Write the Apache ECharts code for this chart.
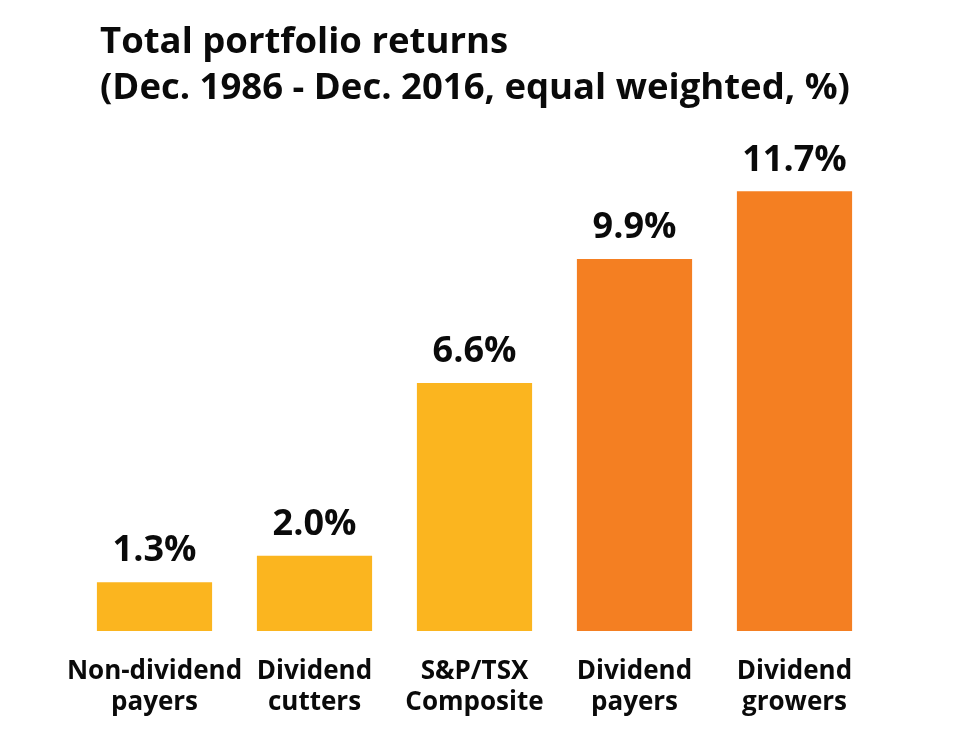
<!DOCTYPE html>
<html><head><meta charset="utf-8">
<script src="https://cdn.jsdelivr.net/npm/echarts@6/dist/echarts.min.js"></script>
<style>html,body{margin:0;padding:0;background:#fff}#c{width:961px;height:752px}</style>
</head><body><div id="c"></div>
<script>
const categories = ["Non-dividend\npayers", "Dividend\ncutters", "S&P/TSX\nComposite", "Dividend\npayers", "Dividend\ngrowers"];
const values = [1.3, 2.0, 6.6, 9.9, 11.7];
const barColors = ["#FBB51F", "#FBB51F", "#FBB51F", "#F47F22", "#F47F22"];
const titleLines = ["Total portfolio returns", "(Dec. 1986 - Dec. 2016, equal weighted, %)"];

const FONT = "Open Sans";
const chart = echarts.init(document.getElementById('c'), null, {renderer: 'canvas'});
chart.setOption({
  animation: false,
  backgroundColor: '#fff',
  title: {
    text: titleLines.join('\n'),
    left: 95, top: 15,
    textStyle: {fontFamily: FONT, fontWeight: 'bold', fontSize: 36.5, lineHeight: 46, color: '#0a0a0a'}
  },
  grid: {left: 74.5, right: 961 - 874.5, top: 180, bottom: 752 - 631},
  xAxis: {
    type: 'category', data: categories,
    axisLine: {show: false}, axisTick: {show: false},
    axisLabel: {margin: 25, fontFamily: FONT, fontWeight: 'bold', fontSize: 26, lineHeight: 31, color: '#0a0a0a', interval: 0}
  },
  yAxis: {type: 'value', min: 0, max: 12, show: false, splitLine: {show: false}},
  series: [{
    type: 'bar',
    data: values.map((v, i) => ({value: v, itemStyle: {color: barColors[i]}})),
    barWidth: '72%',
    label: {show: true, position: 'top', distance: 13, formatter: p => p.value.toFixed(1) + '%',
      fontFamily: FONT, fontWeight: 'bold', fontSize: 36, color: '#0a0a0a'}
  }]
});
</script></body></html>
